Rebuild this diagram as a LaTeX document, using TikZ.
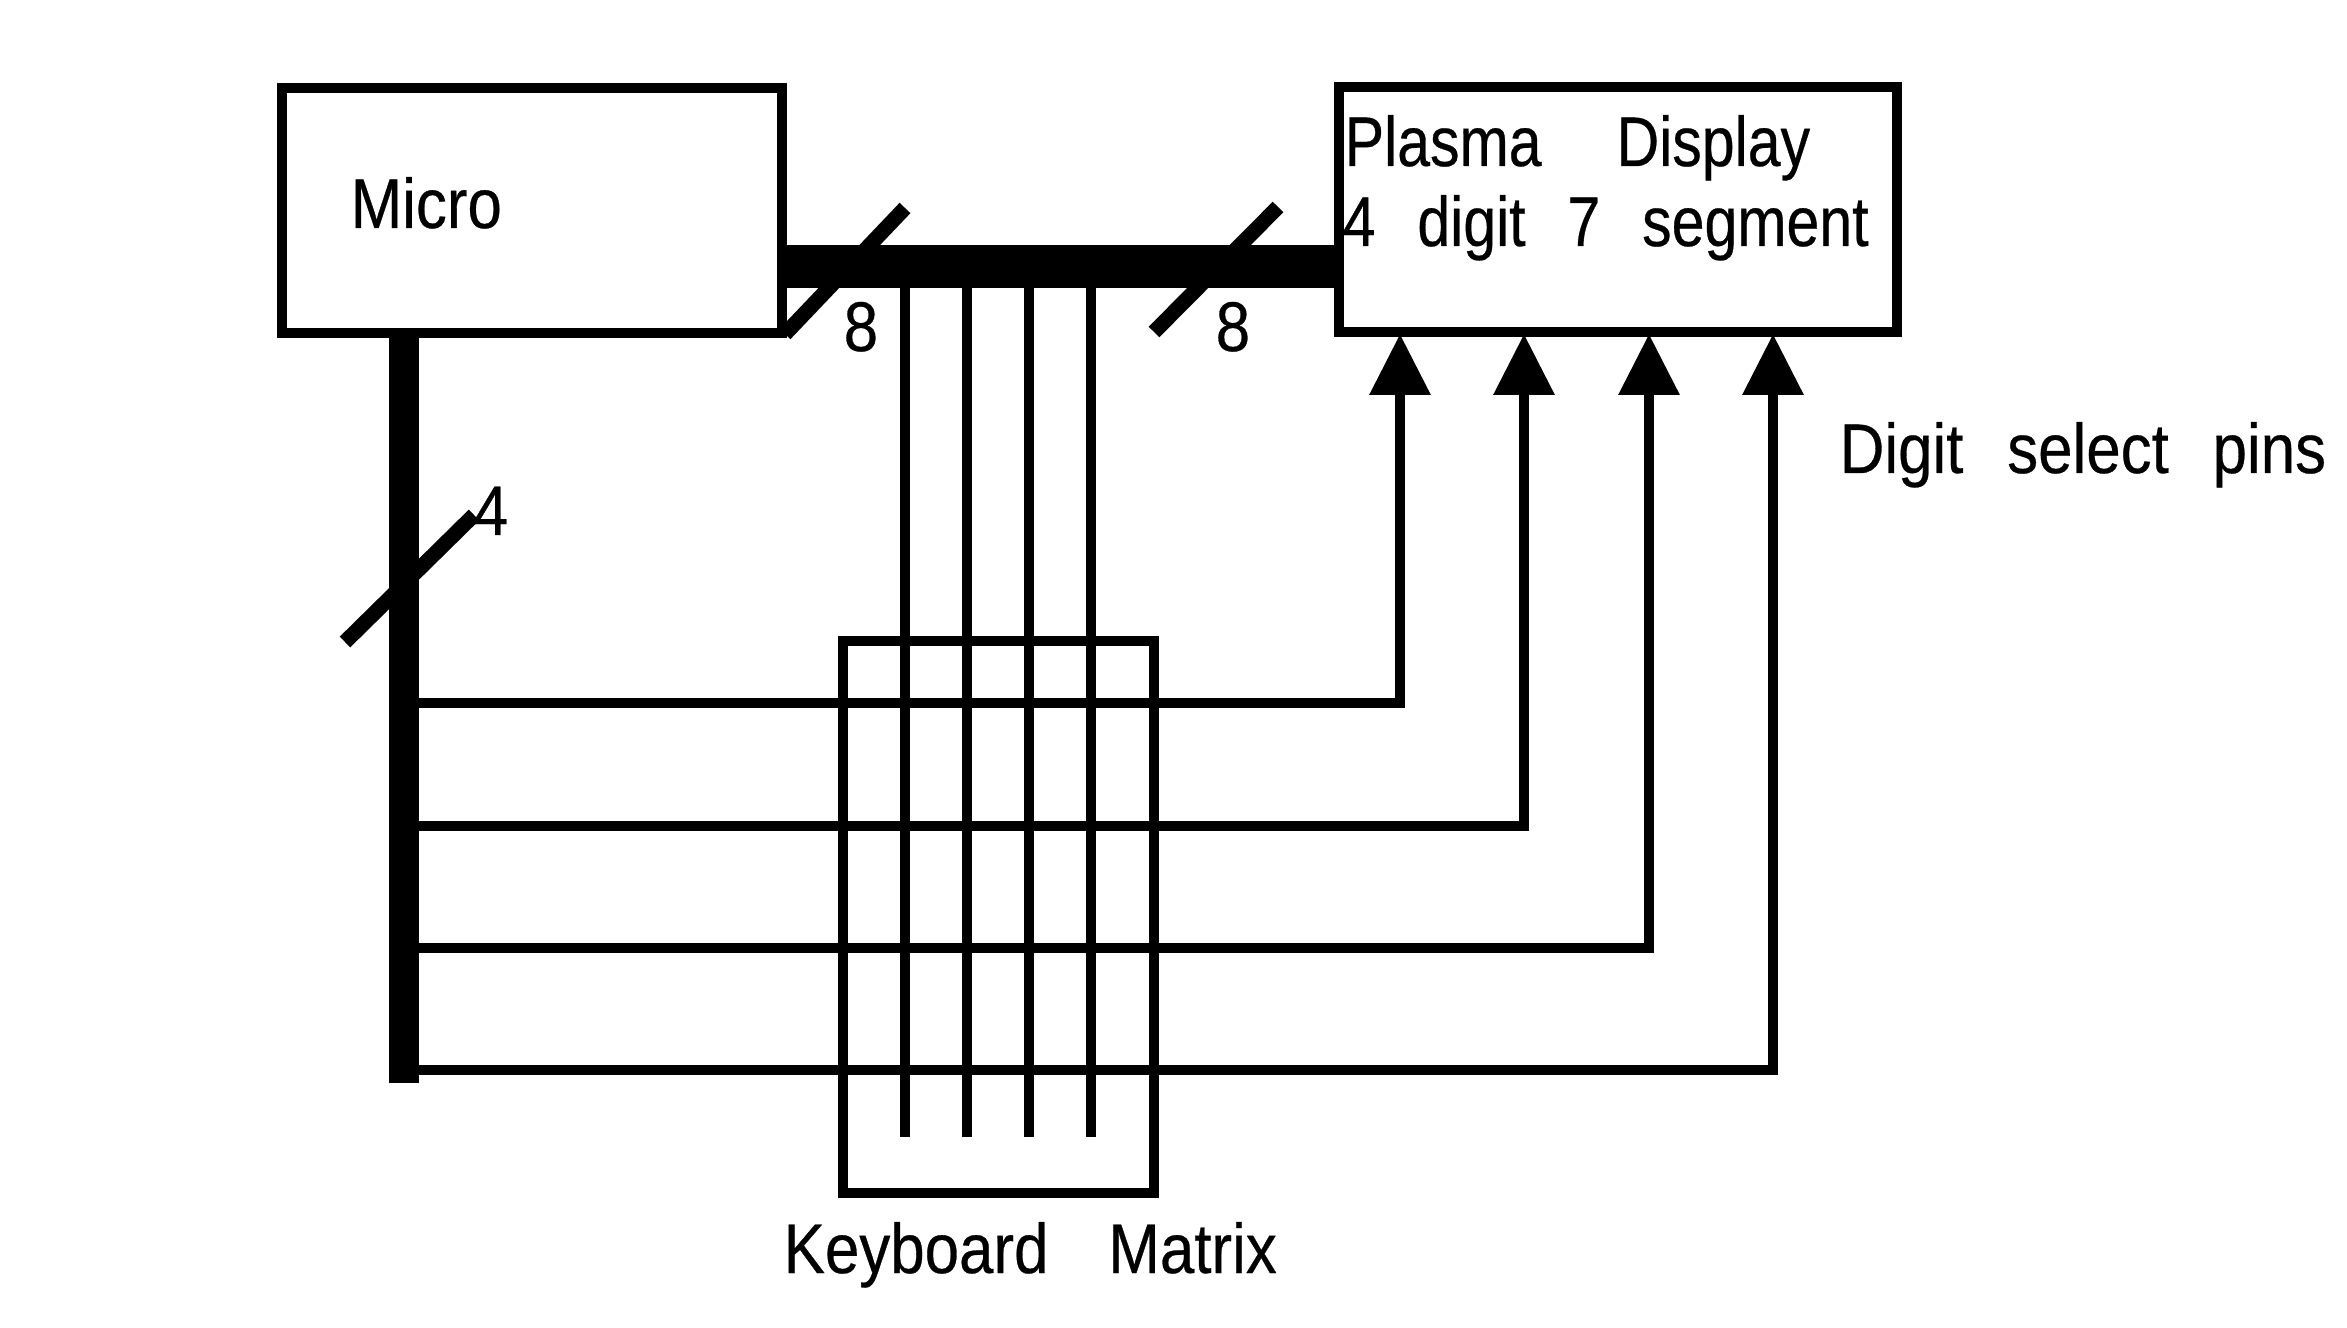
\documentclass[tikz,border=0pt]{standalone}
\usepackage{fontspec}
\usepackage{xcolor}
\setmainfont[FakeStretch=0.88,WordSpace=2.55,FakeBold=0.4]{Liberation Sans}
\newfontfamily\panelfont[FakeStretch=0.84,WordSpace=2.55,FakeBold=0.4]{Liberation Sans}
\usetikzlibrary{arrows.meta}
\def\width{23.47}
\def\hauteur{13.27}
\tikzset{
  block/.style={draw, line width=1mm, inner sep=0pt},
  wire/.style={line width=1mm},
  bus/.style={line width=4.3mm},
  busv/.style={line width=3mm},
  slash/.style={line width=1.5mm},
  pin/.style={wire, -{Triangle[width=5.9mm, length=6.1mm]}},
  txt/.style={anchor=base west, inner sep=0pt, font=\fontsize{20}{20}\selectfont},
  paneltxt/.style={txt, font=\fontsize{20}{20}\panelfont},
}
\begin{document}
\begin{tikzpicture}[x=1cm, y=1cm]
\useasboundingbox (0,0) rectangle (\width,\hauteur);
%\draw[step=1cm, line width=0.2mm, black!30!white] (0,0) grid (\width,\hauteur);
    % blocks
    \node[block, minimum width=5cm, minimum height=2.45cm] (micro) at (5.32,11.165) {};
    \node[block, minimum width=5.58cm, minimum height=2.45cm] (display) at (16.18,11.175) {};
    \node[block, minimum width=3.11cm, minimum height=5.52cm] (keys) at (9.985,4.10) {};
    % bus ends
    \coordinate (b0) at (7.82,10.6);
    \coordinate (b1) at (13.39,10.6);
    \coordinate (v0) at (4.04,9.94);
    \coordinate (v1) at (4.04,2.44);
    \draw[bus] (b0) -- (b1);
    \draw[busv] (v0) -- (v1);
    % keyboard columns
    \coordinate (c1) at (9.05,10.4);
    \coordinate (c2) at (9.67,10.4);
    \coordinate (c3) at (10.29,10.4);
    \coordinate (c4) at (10.91,10.4);
    \coordinate (e1) at (9.05,1.90);
    \coordinate (e2) at (9.67,1.90);
    \coordinate (e3) at (10.29,1.90);
    \coordinate (e4) at (10.91,1.90);
    \draw[wire] (c1) -- (e1);
    \draw[wire] (c2) -- (e2);
    \draw[wire] (c3) -- (e3);
    \draw[wire] (c4) -- (e4);
    % digit select lines
    \coordinate (r1) at (4.04,6.24);
    \coordinate (r2) at (4.04,5.01);
    \coordinate (r3) at (4.04,3.79);
    \coordinate (r4) at (4.04,2.57);
    \coordinate (p1) at (14.00,9.93);
    \coordinate (p2) at (15.24,9.93);
    \coordinate (p3) at (16.49,9.93);
    \coordinate (p4) at (17.73,9.93);
    \draw[pin] (r1) -| (p1);
    \draw[pin] (r2) -| (p2);
    \draw[pin] (r3) -| (p3);
    \draw[pin] (r4) -| (p4);
    % slashes
    \coordinate (s1) at (7.85,9.93);
    \coordinate (t1) at (9.05,11.19);
    \coordinate (s2) at (11.54,9.95);
    \coordinate (t2) at (12.78,11.20);
    \coordinate (s3) at (3.45,6.85);
    \coordinate (t3) at (4.74,8.12);
    \draw[slash] (s1) -- (t1);
    \draw[slash] (s2) -- (t2);
    \draw[slash] (s3) -- (t3);
    % labels
    \node[txt] (microtxt) at (3.50,10.99) {Micro};
    \node[paneltxt] (plasma) at (13.44,11.61) {Plasma\hspace{0.75cm}Display};
    \node[paneltxt] (digits) at (13.42,10.81) {4 digit 7 segment};
    \node[txt] (selecttxt) at (18.39,8.54) {Digit select pins};
    \node[txt] (keystxt) at (7.83,0.54) {Keyboard\hspace{0.6cm}Matrix};
    \node[txt] (n1) at (8.43,9.76) {8};
    \node[txt] (n2) at (12.15,9.76) {8};
    \node[txt] (n3) at (4.73,7.92) {4};
\end{tikzpicture}
\end{document}
